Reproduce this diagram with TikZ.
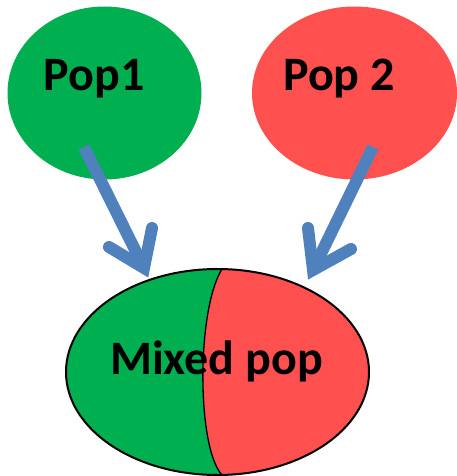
\documentclass[tikz,border=0pt]{standalone}
\usepackage{fontspec}
\setmainfont{Carlito}
\usetikzlibrary{shapes.geometric}
\definecolor{popgreen}{HTML}{00B050}
\definecolor{popred}{HTML}{FF5050}
\definecolor{arrowblue}{HTML}{4F81BD}
\begin{document}
\begin{tikzpicture}[x=1pt,y=-1pt,
  popblob/.style={ellipse, inner sep=0pt, minimum width=194pt, minimum height=173pt},
  poplabel/.style={anchor=base, inner sep=0pt, font=\fontsize{48}{56}\selectfont\bfseries},
  shaft/.style={draw=arrowblue, line width=12pt, line cap=butt},
  arrowhead/.style={draw=arrowblue, line width=12pt, line cap=round, line join=miter}]
\useasboundingbox (0,0) rectangle (457,476);
% top populations
\node[popblob, fill=popgreen] (pop1) at (104.5,93) {};
\node[popblob, fill=popred, minimum width=205pt] (pop2) at (354.5,93) {};
\node[poplabel] (pop1label) at (94,91) {Pop1};
\node[poplabel] (pop2label) at (339,91) {Pop 2};
% arrows
\coordinate (a1s) at (84,147);
\coordinate (a1t) at (144,268);
\coordinate (a1l) at (109,247);
\coordinate (a1r) at (152,228);
\coordinate (a2s) at (373,147);
\coordinate (a2t) at (313,270);
\coordinate (a2l) at (308,228);
\coordinate (a2r) at (351,249);
\draw[shaft] (a1s) -- (a1t);
\draw[arrowhead] (a1l) -- (a1t) -- (a1r);
\draw[shaft] (a2s) -- (a2t);
\draw[arrowhead] (a2l) -- (a2t) -- (a2r);
% mixed population
\node[ellipse, inner sep=0pt, minimum width=303pt, minimum height=206pt] (mixed) at (217.5,372) {};
\begin{scope}
  \clip (217.5,372) ellipse [x radius=151.5pt, y radius=103pt];
  \fill[popred] (60,260) rectangle (380,480);
  \fill[popgreen] (222,269) .. controls (196.5,310) and (196.5,447) .. (222,475) -- (60,480) -- (60,260) -- cycle;
  \draw[line width=1.3pt] (222,269) .. controls (196.5,310) and (196.5,447) .. (222,475);
\end{scope}
\draw[line width=2pt] (217.5,372) ellipse [x radius=151.5pt, y radius=103pt];
\node[poplabel] (mixedlabel) at (216.5,374) {Mixed pop};
\end{tikzpicture}
\end{document}
